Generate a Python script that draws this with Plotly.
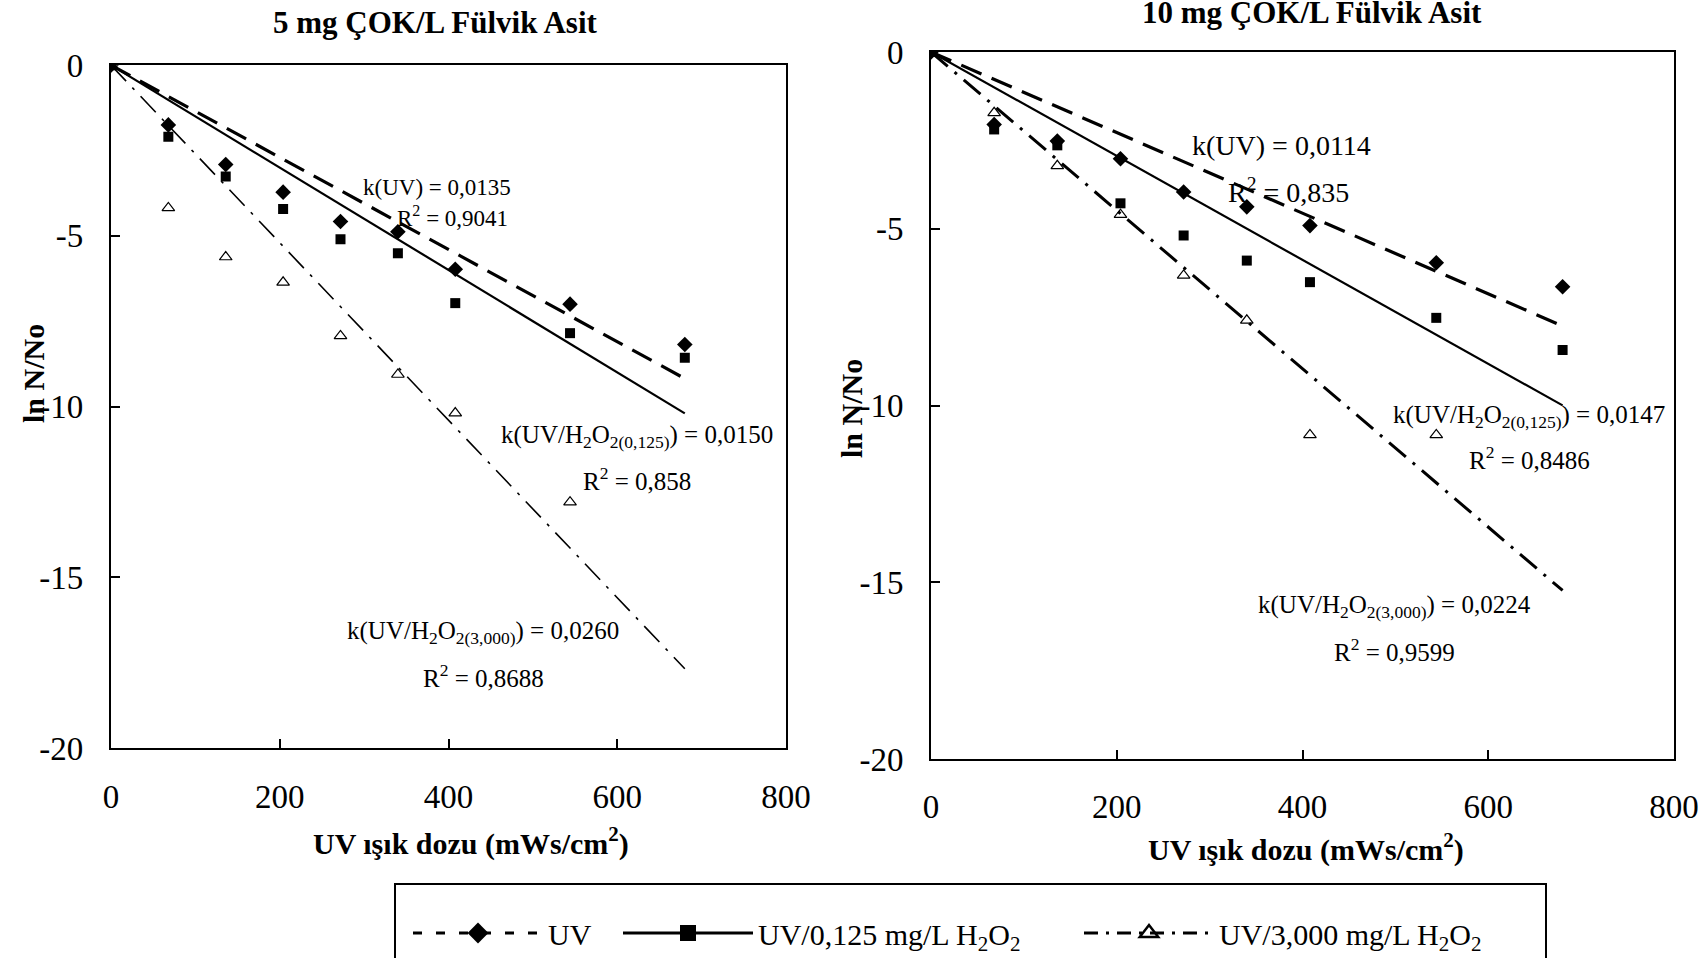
import plotly.graph_objects as go

# UV dose (mWs/cm2)
dose = [0, 68, 136, 204, 272, 340, 408, 544, 680]

# ln N/No, 5 mg DOC/L fulvic acid
uv_5 = [0, -1.75, -2.91, -3.72, -4.58, -4.88, -5.98, -7.00, -8.18]
h125_5 = [0, -2.10, -3.26, -4.21, -5.10, -5.51, -6.97, -7.85, -8.57]
h3000_5 = [0, -4.18, -5.62, -6.36, -7.93, -9.06, -10.19, -12.80]

# ln N/No, 10 mg DOC/L fulvic acid
uv_10 = [0, -2.05, -2.52, -3.02, -3.96, -4.38, -4.91, -5.96, -6.64]
h125_10 = [0, -2.19, -2.64, -4.28, -5.19, -5.90, -6.51, -7.52, -8.43]
h3000_10 = [0, -1.72, -3.22, -4.60, -6.32, -7.59, -10.83, -10.83]

# first-order rate constants (trend lines through the origin) and R2
k_5 = [0.0135, 0.0150, 0.0260]
r2_5 = ["0,9041", "0,858", "0,8688"]
k_10 = [0.0114, 0.0147, 0.0224]
r2_10 = ["0,835", "0,8486", "0,9599"]

panel_titles = ["5 mg ÇOK/L Fülvik Asit", "10 mg ÇOK/L Fülvik Asit"]
series_names = ["UV", "UV/0,125 mg/L H<sub>2</sub>O<sub>2</sub>",
                "UV/3,000 mg/L H<sub>2</sub>O<sub>2</sub>"]
x_ticks = [0, 200, 400, 600, 800]
x_ticktext = ["0", "200", "400", "600", "800"]
y_ticks = [0, -5, -10, -15, -20]
y_ticktext = ["0", "-5", "-10", "-15", "-20"]

FONT = "Liberation Serif, Times New Roman, serif"
BLACK = "#000000"
W, H = 1707, 958

fig = go.Figure()


def fmt_k(k):
    return f"{k:.4f}".replace(".", ",")


def add_panel(xa, uv, h125, h3000, ks, dash_w):
    xr, yr = ("x", "y") if xa == 1 else (f"x{xa}", f"y{xa}")
    marks = [
        (uv, dict(symbol="diamond", size=12, color=BLACK)),
        (h125, dict(symbol="square", size=10, color=BLACK)),
        (h3000, dict(symbol="triangle-up-open", size=11, color=BLACK,
                     line=dict(width=1.2, color=BLACK))),
    ]
    styles = [
        dict(color=BLACK, width=3.2, dash="22px,11px"),
        dict(color=BLACK, width=2.2, dash="solid"),
        dict(color=BLACK, width=dash_w, dash="22px,9px,3px,9px"),
    ]
    last = dose[-1]
    for (vals, mk), k, ln in zip(marks, ks, styles):
        fig.add_trace(go.Scatter(
            x=[0, last], y=[0, -k * last], mode="lines", line=ln,
            xaxis=xr, yaxis=yr, showlegend=False, hoverinfo="skip"))
        fig.add_trace(go.Scatter(
            x=dose[:len(vals)], y=vals, mode="markers", marker=mk,
            xaxis=xr, yaxis=yr, showlegend=False))


add_panel(1, uv_5, h125_5, h3000_5, k_5, 1.6)
add_panel(2, uv_10, h125_10, h3000_10, k_10, 3.0)

# legend entries
leg_styles = [
    (dict(color=BLACK, width=3, dash="9px,14px"),
     dict(symbol="diamond", size=22, color=BLACK), 65),
    (dict(color=BLACK, width=3, dash="solid"),
     dict(symbol="square", size=18, color=BLACK), 316),
    (dict(color=BLACK, width=3, dash="14px,8px,3px,8px"),
     dict(symbol="triangle-up-open", size=22, color=BLACK,
          line=dict(width=2.5, color=BLACK)), 320),
]
for name, (ln, mk, lw) in zip(series_names, leg_styles):
    fig.add_trace(go.Scatter(x=[None], y=[None], mode="lines+markers",
                             name=name, line=ln, marker=mk, showlegend=True,
                             legendwidth=lw))

axis_common = dict(
    showgrid=False, zeroline=False, showline=True, linecolor=BLACK,
    linewidth=2, mirror=True, ticks="inside", ticklen=9, tickwidth=1.5,
    tickcolor=BLACK, tickfont=dict(family=FONT, size=33, color=BLACK),
    tickmode="array",
)

fig.update_layout(
    width=W, height=H,
    margin=dict(l=0, r=0, t=0, b=0, autoexpand=False),
    paper_bgcolor="white", plot_bgcolor="white",
    font=dict(family=FONT, color=BLACK),
    xaxis=dict(domain=[0.065, 0.4605], range=[0, 800], tickvals=x_ticks,
               ticktext=x_ticktext, ticklabelstandoff=18, anchor="y",
               **axis_common),
    yaxis=dict(domain=[0.2192, 0.932], range=[-20, 0], tickvals=y_ticks,
               ticktext=y_ticktext, ticklabelstandoff=19, anchor="x",
               **axis_common),
    xaxis2=dict(domain=[0.5454, 0.9807], range=[0, 800], tickvals=x_ticks,
                ticktext=x_ticktext, ticklabelstandoff=17, anchor="y2",
                **axis_common),
    yaxis2=dict(domain=[0.2077, 0.9457], range=[-20, 0], tickvals=y_ticks,
                ticktext=y_ticktext, ticklabelstandoff=19, anchor="x2",
                **axis_common),
    showlegend=True,
    legend=dict(orientation="h", x=408 / W, xanchor="left",
                y=1 - 933 / H, yanchor="middle", borderwidth=0,
                bgcolor="rgba(0,0,0,0)", itemwidth=130, itemsizing="trace",
                font=dict(family=FONT, size=30, color=BLACK)),
    shapes=[dict(type="rect", xref="paper", yref="paper",
                 x0=395 / W, x1=1546 / W, y0=-0.01, y1=1 - 884 / H,
                 line=dict(color=BLACK, width=2), fillcolor="rgba(0,0,0,0)",
                 layer="below")],
)

ann = []
base = dict(xref="paper", yref="paper", showarrow=False,
            xanchor="center", yanchor="middle")
# panel titles
ann.append(dict(text=f"<b>{panel_titles[0]}</b>", x=435 / W, y=1 - 22 / H,
                font=dict(size=31), **base))
ann.append(dict(text=f"<b>{panel_titles[1]}</b>", x=1312 / W, y=1 - 12 / H,
                font=dict(size=31), **base))
# axis titles
for xc, yc in [(471, 841), (1306, 847)]:
    ann.append(dict(text="<b>UV ışık dozu (mWs/cm<sup>2</sup>)</b>",
                    x=xc / W, y=1 - yc / H, font=dict(size=30), **base))
for xc, yc in [(33, 374), (852, 409)]:
    ann.append(dict(text="<b>ln N/No</b>", x=xc / W, y=1 - yc / H,
                    textangle=-90, font=dict(size=30), **base))


# rate-constant labels
def k_label(i, k):
    if i == 0:
        return f"k(UV) = {fmt_k(k)}"
    sub = "0,125" if i == 1 else "3,000"
    return f"k(UV/H<sub>2</sub>O<sub>2({sub})</sub>) = {fmt_k(k)}"


pos_5 = [((386, -3.57), (405, -4.43), 23),
         ((623, -10.88), (623, -12.12), 25),
         ((441, -16.62), (441, -17.9), 25)]
pos_10 = [((377, -2.65), (385, -3.91), 28),
          ((644, -10.32), (644, -11.49), 25),
          ((499, -15.69), (499, -16.92), 25)]
for xr, yr, ks, r2s, pos in [("x", "y", k_5, r2_5, pos_5),
                             ("x2", "y2", k_10, r2_10, pos_10)]:
    for i, (k, r2, (pk, pr, fs)) in enumerate(zip(ks, r2s, pos)):
        ann.append(dict(text=k_label(i, k), x=pk[0], y=pk[1], xref=xr, yref=yr,
                        showarrow=False, font=dict(size=fs)))
        ann.append(dict(text=f"R<sup>2</sup> = {r2}", x=pr[0], y=pr[1],
                        xref=xr, yref=yr, showarrow=False, font=dict(size=fs)))

fig.update_layout(annotations=ann)
fig.write_html("out.html")
